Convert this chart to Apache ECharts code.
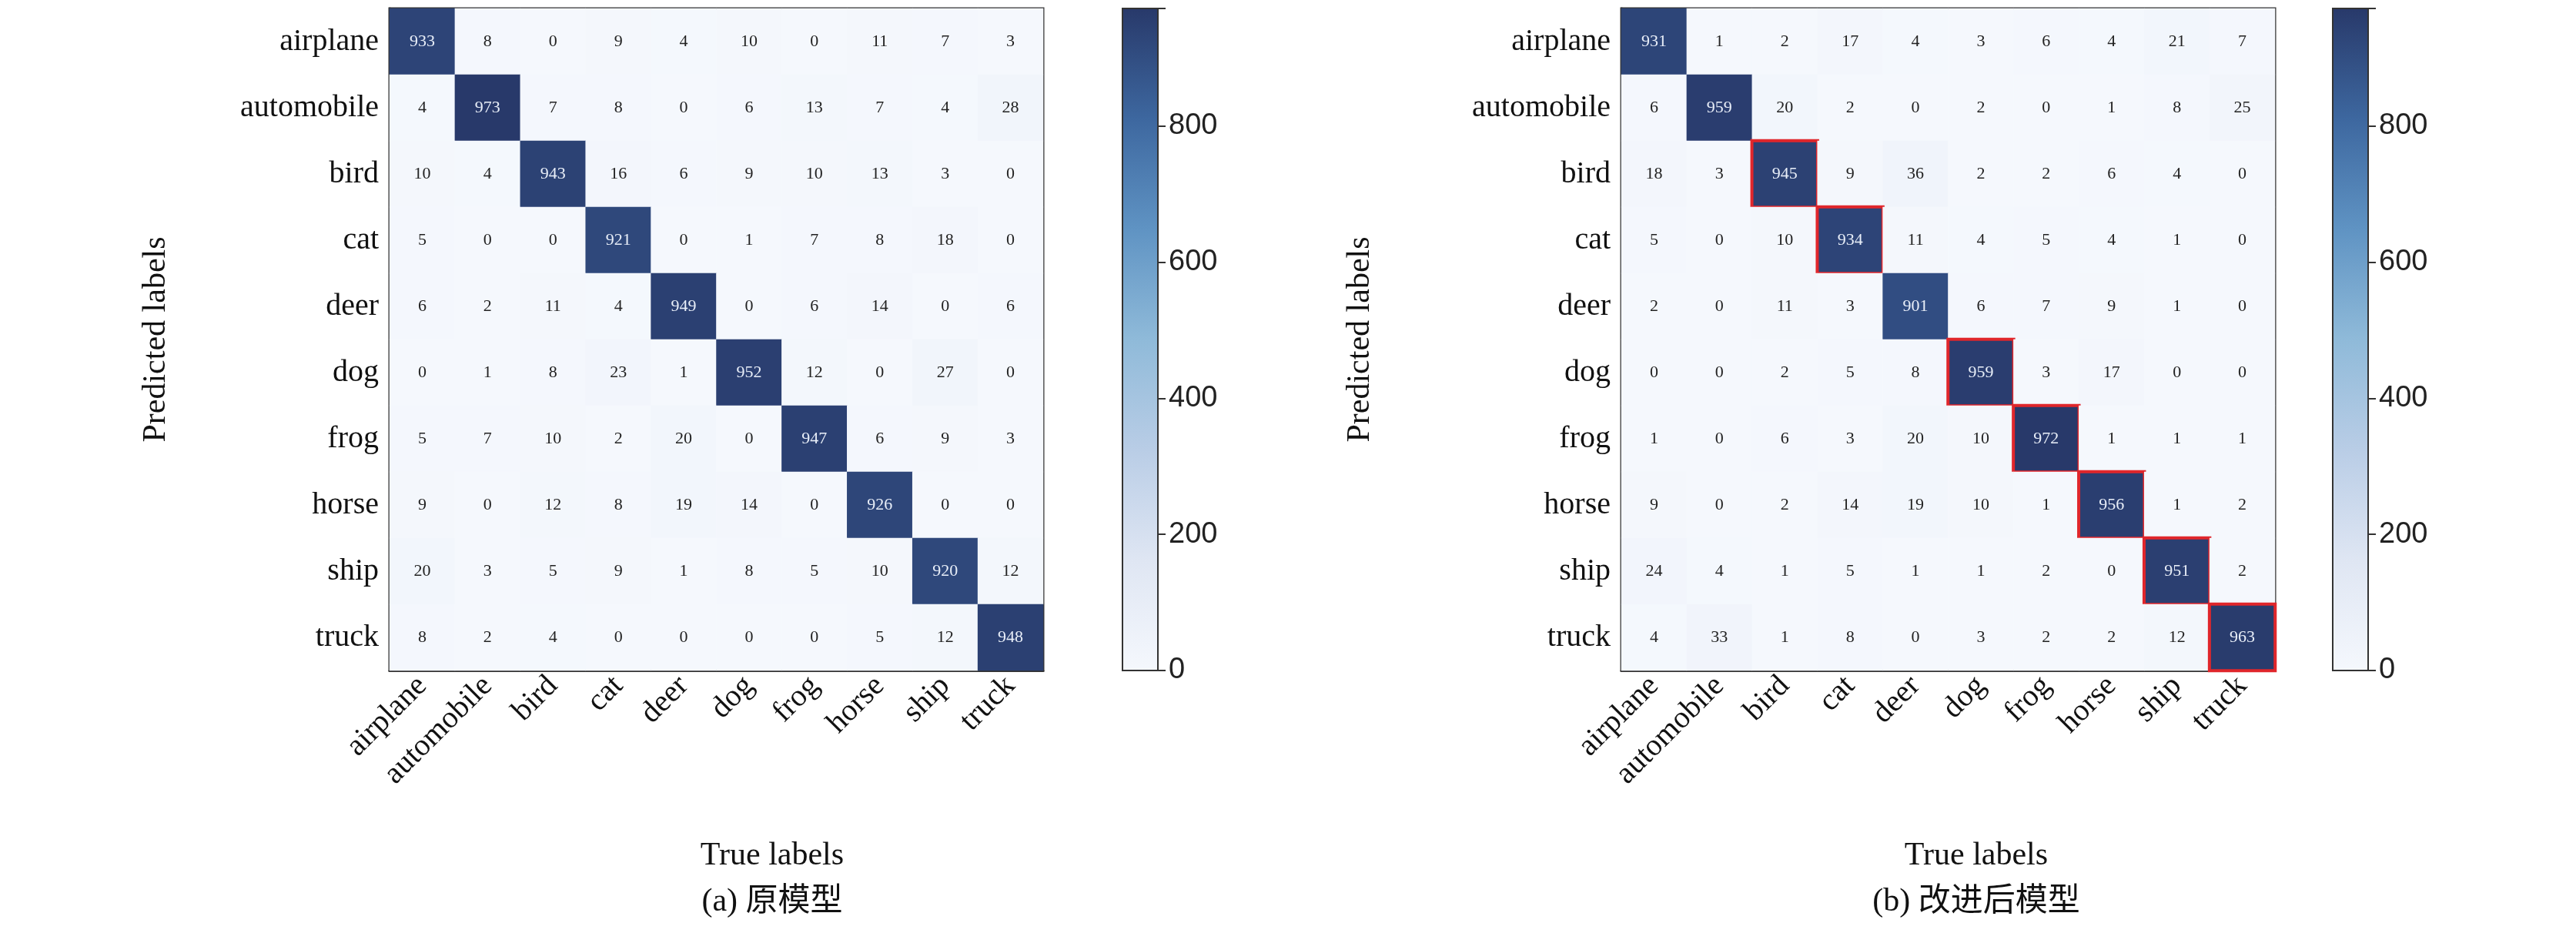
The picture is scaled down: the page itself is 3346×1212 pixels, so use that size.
<!DOCTYPE html>
<html>
<head>
<meta charset="UTF-8">
<title>confusion matrix</title>
<script src="https://cdn.jsdelivr.net/npm/echarts@6/dist/echarts.min.js"></script>
<style>html,body{margin:0;padding:0;background:#fff}#main{width:3346px;height:1212px}</style>
</head>
<body>
<div id="main"></div>
<script type="text/javascript">
// class names (rows = predicted, columns = true)
var labels = ['airplane','automobile','bird','cat','deer','dog','frog','horse','ship','truck'];
var barTicks = [0,200,400,600,800];

// (a) original model
var matA = [
  [933,8,0,9,4,10,0,11,7,3],
  [4,973,7,8,0,6,13,7,4,28],
  [10,4,943,16,6,9,10,13,3,0],
  [5,0,0,921,0,1,7,8,18,0],
  [6,2,11,4,949,0,6,14,0,6],
  [0,1,8,23,1,952,12,0,27,0],
  [5,7,10,2,20,0,947,6,9,3],
  [9,0,12,8,19,14,0,926,0,0],
  [20,3,5,9,1,8,5,10,920,12],
  [8,2,4,0,0,0,0,5,12,948]
];
// (b) improved model
var matB = [
  [931,1,2,17,4,3,6,4,21,7],
  [6,959,20,2,0,2,0,1,8,25],
  [18,3,945,9,36,2,2,6,4,0],
  [5,0,10,934,11,4,5,4,1,0],
  [2,0,11,3,901,6,7,9,1,0],
  [0,0,2,5,8,959,3,17,0,0],
  [1,0,6,3,20,10,972,1,1,1],
  [9,0,2,14,19,10,1,956,1,2],
  [24,4,1,5,1,1,2,0,951,2],
  [4,33,1,8,0,3,2,2,12,963]
];
// diagonal cells boxed in red on panel (b)
var boxedB = [2,3,5,6,7,8,9];

var vmax = 973;
var colors = ['#f5f8fd','#dfe6f3','#b9cde6','#8fbad9','#5f93c3','#3d679f','#28396a'];
var serif = "'Liberation Serif','Noto Sans CJK SC',serif";

function cells(mat, boxed){
  var out = [];
  for (var i = 0; i < mat.length; i++){
    for (var j = 0; j < mat[i].length; j++){
      var v = mat[i][j];
      var d = {value:[j,i,v], label:{color: v > 500 ? '#e8eef8' : '#222'}};
      if (boxed && i === j && boxed.indexOf(i) >= 0){
        d.itemStyle = {borderColor:'#e0262b', borderWidth:4};
      }
      out.push(d);
    }
  }
  return out;
}

var gridA = {left:506, top:11, width:849, height:860};
var gridB = {left:2106, top:11, width:849, height:860};
var barA = {left:1458, top:11, width:46, height:860};
var barB = {left:3030, top:11, width:46, height:860};

function catX(idx){
  return {type:'category', gridIndex:idx, data:labels,
    axisLine:{lineStyle:{color:'#333', width:3}}, axisTick:{alignWithLabel:true, length:10, lineStyle:{color:'#333',width:2}},
    axisLabel:{rotate:45, fontSize:40, fontFamily:serif, color:'#111', margin:14}, splitLine:{show:false}};
}
function catY(idx){
  return {type:'category', gridIndex:idx, data:labels, inverse:true,
    axisLine:{lineStyle:{color:'#333', width:3}}, axisTick:{alignWithLabel:true, length:10, lineStyle:{color:'#333',width:2}},
    axisLabel:{fontSize:40, fontFamily:serif, color:'#111', margin:14}};
}
function barX(idx){
  return {type:'category', gridIndex:idx, data:[''], show:false};
}
function barY(idx){
  return {type:'value', gridIndex:idx, min:0, max:vmax, interval:200, position:'right',
    axisLine:{show:false}, splitLine:{show:false},
    axisTick:{show:true, length:10, lineStyle:{color:'#333',width:2}},
    axisLabel:{fontSize:38, fontFamily:"'Liberation Sans',sans-serif", color:'#222', margin:14,
      formatter:function(v){ return barTicks.indexOf(v) >= 0 ? v : ''; }}};
}
function gradRect(g){
  var stops = colors.map(function(c,k){ return {offset:1 - k/(colors.length-1), color:c}; });
  return {type:'rect', shape:{x:g.left, y:g.top, width:g.width, height:g.height},
    style:{fill:new echarts.graphic.LinearGradient(0,0,0,1,stops), stroke:'#333', lineWidth:2}, z:-1};
}
function txt(x, y, s, rot){
  return {type:'text', x:x, y:y, rotation:rot || 0,
    style:{text:s, fontSize:42, fontFamily:serif, fill:'#111', align:'center', verticalAlign:'middle'}};
}
function heat(idx, mat, boxed){
  return {type:'heatmap', xAxisIndex:idx, yAxisIndex:idx, data:cells(mat, boxed),
    label:{show:true, fontSize:22, fontFamily:serif}, itemStyle:{borderWidth:0},
    emphasis:{disabled:true}};
}

var myChart = echarts.init(document.getElementById('main'));
var option = {
  backgroundColor:'#fff',
  animation:false,
  grid:[
    Object.assign({show:true, borderColor:'#333', borderWidth:3}, gridA),
    Object.assign({show:true, borderColor:'#333', borderWidth:3}, gridB),
    barA, barB
  ],
  xAxis:[catX(0), catX(1), barX(2), barX(3)],
  yAxis:[catY(0), catY(1), barY(2), barY(3)],
  visualMap:[{show:false, min:0, max:vmax, seriesIndex:[0,1], inRange:{color:colors}}],
  series:[heat(0, matA, null), heat(1, matB, boxedB)],
  graphic:[
    gradRect(barA), gradRect(barB),
    txt(203, 441, 'Predicted labels', Math.PI/2),
    txt(1767, 441, 'Predicted labels', Math.PI/2),
    txt(1003, 1112, 'True labels'),
    txt(2567, 1112, 'True labels'),
    txt(1003, 1172, '(a) 原模型'),
    txt(2567, 1172, '(b) 改进后模型')
  ]
};
myChart.setOption(option);
</script>
</body>
</html>
